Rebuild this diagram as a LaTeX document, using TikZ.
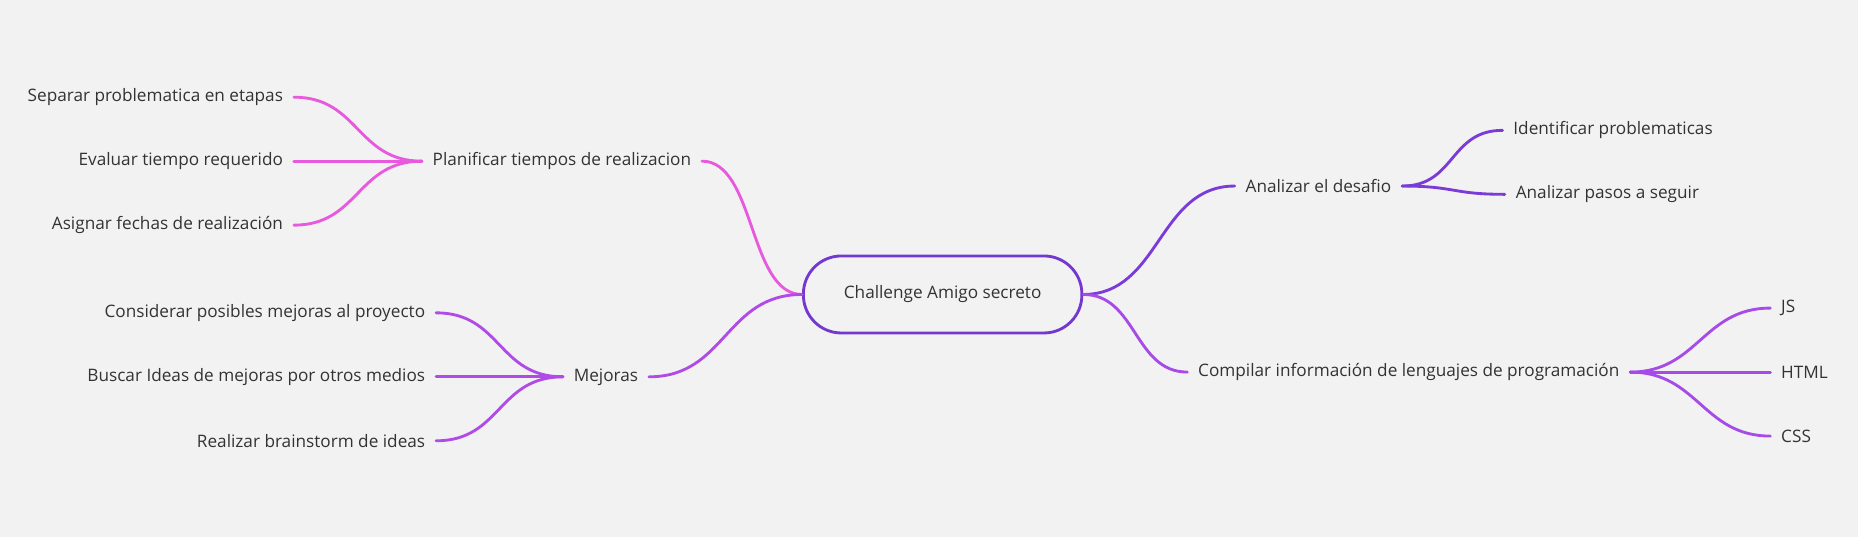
\documentclass[tikz,border=0pt]{standalone}
\usepackage{fontspec}
\setmainfont{Open Sans}
\definecolor{bgcol}{HTML}{F2F2F2}
\definecolor{txtcol}{HTML}{333333}
\definecolor{rootcol}{HTML}{7238D0}
\definecolor{plancol}{HTML}{E759DD}
\definecolor{mejcol}{HTML}{B04BE8}
\definecolor{analcol}{HTML}{7A3BD8}
\definecolor{compcol}{HTML}{A64BE8}
\tikzset{every picture/.style={line width=2.4pt}}
\tikzset{
  topic/.style={inner xsep=8pt,inner ysep=2pt,text=txtcol,font=\fontsize{14.5}{17}\selectfont},
  root/.style={draw=rootcol,rounded corners=32pt,minimum width=235pt,minimum height=65pt,text=txtcol,font=\fontsize{14.5}{17}\selectfont},
  branch/.style={line cap=round}
}

\begin{document}
\begin{tikzpicture}[x=1pt,y=1pt,yscale=-1,xscale=1]
    \useasboundingbox[fill=bgcol] (0,0) rectangle (1568,453.2);
    % Root Node
    \node[root] (root) at (795.5,248.5) {Challenge Amigo secreto};
    % Text Node
    \node[topic,anchor=west] (plan) at (356,136) {Planificar tiempos de realizacion};
    \node[topic,anchor=east] (sep) at (248,82) {Separar problematica en etapas};
    \node[topic,anchor=east] (eval) at (248,136) {Evaluar tiempo requerido};
    \node[topic,anchor=east] (fech) at (248,190) {Asignar fechas de realización};
    % Text Node
    \node[topic,anchor=west] (mej) at (475,318) {Mejoras};
    \node[topic,anchor=east] (cons) at (368,264) {Considerar posibles mejoras al proyecto};
    \node[topic,anchor=east] (busc) at (368,318) {Buscar Ideas de mejoras por otros medios};
    \node[topic,anchor=east] (brain) at (368,372) {Realizar brainstorm de ideas};
    % Text Node
    \node[topic,anchor=west] (anal) at (1042,157) {Analizar el desafio};
    \node[topic,anchor=west] (iden) at (1268,110) {Identificar problematicas};
    \node[topic,anchor=west] (pasos) at (1270,164) {Analizar pasos a seguir};
    % Text Node
    \node[topic,anchor=west] (comp) at (1002,314) {Compilar información de lenguajes de programación};
    \node[topic,anchor=west] (js) at (1494,260) {JS};
    \node[topic,anchor=west] (html) at (1494,314) {HTML};
    \node[topic,anchor=west] (css) at (1494,368) {CSS};
    %Curve Lines
    \draw[branch,plancol] (root.west) .. controls +(-45,0) and +(45,0) .. (plan.east);
    \draw[branch,plancol] (sep.east) .. controls +(55,0) and +(-55,0) .. (plan.west);
    \draw[branch,plancol] (eval.east) -- (plan.west);
    \draw[branch,plancol] (fech.east) .. controls +(55,0) and +(-55,0) .. (plan.west);
    %Curve Lines
    \draw[branch,mejcol] (root.west) .. controls +(-65,0) and +(65,0) .. (mej.east);
    \draw[branch,mejcol] (cons.east) .. controls +(55,0) and +(-55,0) .. (mej.west);
    \draw[branch,mejcol] (busc.east) -- (mej.west);
    \draw[branch,mejcol] (brain.east) .. controls +(55,0) and +(-55,0) .. (mej.west);
    %Curve Lines
    \draw[branch,analcol] (root.east) .. controls +(65,0) and +(-65,0) .. (anal.west);
    \draw[branch,analcol] (anal.east) .. controls +(45,0) and +(-45,0) .. (iden.west);
    \draw[branch,analcol] (anal.east) .. controls +(45,0) and +(-45,0) .. (pasos.west);
    %Curve Lines
    \draw[branch,compcol] (root.east) .. controls +(45,0) and +(-45,0) .. (comp.west);
    \draw[branch,compcol] (comp.east) .. controls +(57,0) and +(-57,0) .. (js.west);
    \draw[branch,compcol] (comp.east) -- (html.west);
    \draw[branch,compcol] (comp.east) .. controls +(57,0) and +(-57,0) .. (css.west);
\end{tikzpicture}
\end{document}
